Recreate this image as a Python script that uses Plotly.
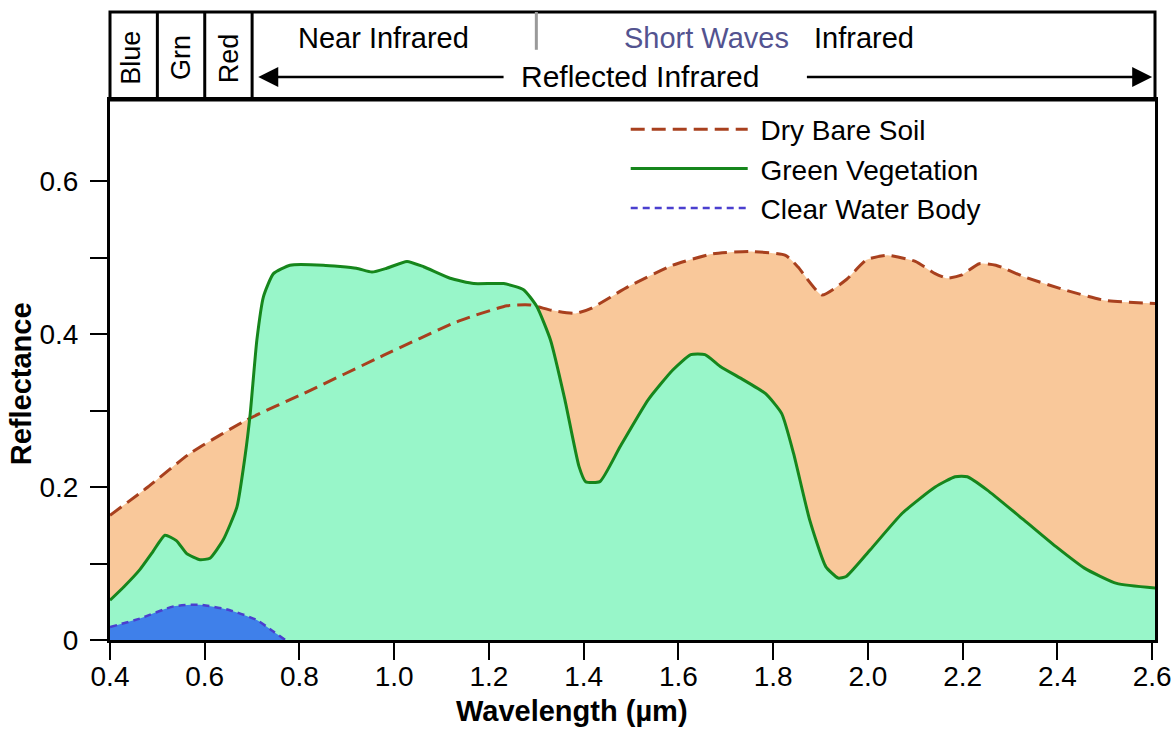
import plotly.graph_objects as go

# Spectral reflectance curves
wl_soil = [0.40, 0.48, 0.569, 0.689, 0.808, 0.977, 1.132, 1.238, 1.287, 1.332, 1.383, 1.417,
           1.494, 1.588, 1.673, 1.75, 1.826, 1.852, 1.903, 1.954, 1.997, 2.04, 2.10, 2.142,
           2.167, 2.197, 2.235, 2.27, 2.329, 2.414, 2.50, 2.607]
refl_soil = [0.163, 0.20, 0.244, 0.288, 0.322, 0.372, 0.416, 0.437, 0.438, 0.431, 0.427, 0.434,
             0.462, 0.49, 0.505, 0.508, 0.503, 0.488, 0.451, 0.471, 0.497, 0.503, 0.495, 0.479,
             0.473, 0.477, 0.492, 0.49, 0.475, 0.458, 0.444, 0.44]

wl_veg = [0.40, 0.43, 0.463, 0.49, 0.516, 0.54, 0.562, 0.59, 0.611, 0.639, 0.668, 0.685, 0.696,
          0.71, 0.724, 0.745, 0.78, 0.85, 0.92, 0.953, 0.984, 1.027, 1.062, 1.118, 1.168, 1.231,
          1.273, 1.301, 1.33, 1.36, 1.39, 1.404, 1.434, 1.477, 1.536, 1.588, 1.626, 1.656, 1.69,
          1.732, 1.784, 1.818, 1.843, 1.877, 1.911, 1.937, 1.954, 2.005, 2.073, 2.142, 2.184,
          2.21, 2.252, 2.329, 2.397, 2.457, 2.525, 2.607]
refl_veg = [0.052, 0.07, 0.092, 0.115, 0.137, 0.13, 0.113, 0.105, 0.107, 0.131, 0.174, 0.24, 0.296,
            0.392, 0.449, 0.479, 0.49, 0.49, 0.486, 0.481, 0.486, 0.495, 0.488, 0.473, 0.466, 0.466,
            0.458, 0.436, 0.392, 0.315, 0.227, 0.207, 0.207, 0.253, 0.314, 0.353, 0.373, 0.373, 0.357,
            0.342, 0.322, 0.296, 0.244, 0.157, 0.096, 0.081, 0.083, 0.118, 0.166, 0.20, 0.2135,
            0.2135, 0.196, 0.157, 0.122, 0.094, 0.074, 0.068]

wl_water = [0.40, 0.463, 0.534, 0.59, 0.653, 0.71, 0.745, 0.77]
refl_water = [0.017, 0.028, 0.044, 0.046, 0.039, 0.026, 0.011, 0.0]

x_ticks = [0.4, 0.6, 0.8, 1.0, 1.2, 1.4, 1.6, 1.8, 2.0, 2.2, 2.4, 2.6]
y_ticks = [0, 0.1, 0.2, 0.3, 0.4, 0.5, 0.6]
y_ticktext = ['0', '', '0.2', '', '0.4', '', '0.6']

# header bands (wavelength boundaries)
band_edges = [0.5, 0.6, 0.7]
band_labels = ['Blue', 'Grn', 'Red']
band_centers = [0.444, 0.55, 0.652]

FONT = 'Liberation Sans, Arial, sans-serif'
NB = '\u00a0'  # a bit of room between legend line and label

fig = go.Figure()

# fills first, drawn in order soil -> vegetation -> water
fig.add_trace(go.Scatter(x=wl_soil, y=refl_soil, mode='lines', fill='tozeroy',
                         fillcolor='#F9C89A', line=dict(width=0, shape='spline', smoothing=0.5),
                         showlegend=False, hoverinfo='skip'))
fig.add_trace(go.Scatter(x=wl_veg, y=refl_veg, mode='lines', fill='tozeroy',
                         fillcolor='#98F6C9', line=dict(width=0, shape='spline', smoothing=0.5),
                         showlegend=False, hoverinfo='skip'))
fig.add_trace(go.Scatter(x=wl_water, y=refl_water, mode='lines', fill='tozeroy',
                         fillcolor='#3F80EA', line=dict(width=0, shape='spline', smoothing=0.6),
                         showlegend=False, hoverinfo='skip'))

# outlines (these carry the legend)
fig.add_trace(go.Scatter(x=wl_soil, y=refl_soil, mode='lines', name=NB + 'Dry Bare Soil',
                         line=dict(color='#A8401E', width=3, dash='14px,7px',
                                   shape='spline', smoothing=0.5)))
fig.add_trace(go.Scatter(x=wl_veg, y=refl_veg, mode='lines', name=NB + 'Green Vegetation',
                         line=dict(color='#16861C', width=3, shape='spline', smoothing=0.5)))
fig.add_trace(go.Scatter(x=wl_water, y=refl_water, mode='lines', name=NB + 'Clear Water Body',
                         line=dict(color='#4A3FCF', width=2.5, dash='7px,5px',
                                   shape='spline', smoothing=0.6)))

# header box above the plot
fig.add_shape(type='rect', xref='paper', yref='paper', x0=0, x1=1, y0=1, y1=1.163,
              line=dict(color='black', width=3))
for xv in band_edges:
    fig.add_shape(type='line', xref='x', yref='paper', x0=xv, x1=xv, y0=1, y1=1.163,
                  line=dict(color='black', width=3))
fig.add_shape(type='line', xref='x', yref='paper', x0=1.3, x1=1.3, y0=1.093, y1=1.163,
              line=dict(color='#9A9A9A', width=3))

for lab, xc in zip(band_labels, band_centers):
    fig.add_annotation(x=xc, y=1.078, xref='x', yref='paper', text=lab, showarrow=False,
                       xanchor='center', yanchor='middle', textangle=-90,
                       font=dict(size=27, color='black', family=FONT))

fig.add_annotation(x=0.977, y=1.115, xref='x', yref='paper', text='Near Infrared',
                   showarrow=False, xanchor='center', yanchor='middle',
                   font=dict(size=29, color='black', family=FONT))
fig.add_annotation(x=1.66, y=1.115, xref='x', yref='paper', text='Short Waves',
                   showarrow=False, xanchor='center', yanchor='middle',
                   font=dict(size=29, color='#535390', family=FONT))
fig.add_annotation(x=1.992, y=1.115, xref='x', yref='paper', text='Infrared',
                   showarrow=False, xanchor='center', yanchor='middle',
                   font=dict(size=29, color='black', family=FONT))

# reflected infrared arrows
fig.add_annotation(x=0.713, y=1.0426, xref='x', yref='paper', ax=1.234, ay=0,
                   axref='x', ayref='pixel', text='', showarrow=True,
                   arrowhead=2, arrowsize=1.6, arrowwidth=2.5, arrowcolor='black')
fig.add_annotation(x=2.6, y=1.0426, xref='x', yref='paper', ax=1.868, ay=0,
                   axref='x', ayref='pixel', text='', showarrow=True,
                   arrowhead=2, arrowsize=1.6, arrowwidth=2.5, arrowcolor='black')
fig.add_annotation(x=1.518, y=1.043, xref='x', yref='paper', text='Reflected Infrared',
                   showarrow=False, xanchor='center', yanchor='middle',
                   font=dict(size=30, color='black', family=FONT))

# axis titles
fig.add_annotation(x=0.442, y=-0.131, xref='paper', yref='paper', text='Wavelength (µm)',
                   showarrow=False, xanchor='center', yanchor='middle',
                   font=dict(size=29, color='black', family=FONT, weight='bold'))
fig.add_annotation(x=-0.085, y=0.474, xref='paper', yref='paper', text='Reflectance',
                   showarrow=False, textangle=-90, xanchor='center', yanchor='middle',
                   font=dict(size=29, color='black', family=FONT, weight='bold'))

fig.update_xaxes(range=[0.4, 2.606], tickvals=x_ticks, tickformat='.1f',
                 ticks='outside', ticklen=17, tickwidth=2, tickcolor='black',
                 ticklabelstandoff=-8, ticklabeloverflow='allow', automargin=False,
                 showline=True, linewidth=3, linecolor='black', mirror=True,
                 showgrid=False, zeroline=False,
                 tickfont=dict(size=28, color='black', family=FONT))
fig.update_yaxes(range=[0, 0.706], tickvals=y_ticks, ticktext=y_ticktext,
                 ticks='outside', ticklen=17, tickwidth=2, tickcolor='black',
                 ticklabelstandoff=6, automargin=False,
                 showline=True, linewidth=3, linecolor='black', mirror=True,
                 showgrid=False, zeroline=False,
                 tickfont=dict(size=28, color='black', family=FONT))

fig.update_layout(width=1171, height=732,
                  margin=dict(l=110, r=16, t=100, b=92),
                  plot_bgcolor='white', paper_bgcolor='white',
                  font=dict(family=FONT, color='black'),
                  legend=dict(x=0.4935, y=0.9917, xanchor='left', yanchor='top',
                              bgcolor='rgba(0,0,0,0)', itemwidth=117,
                              font=dict(size=28, color='black', family=FONT),
                              tracegroupgap=0))

fig.write_html("out.html", config={'displayModeBar': False},
               post_script="document.body.style.margin='0';")
